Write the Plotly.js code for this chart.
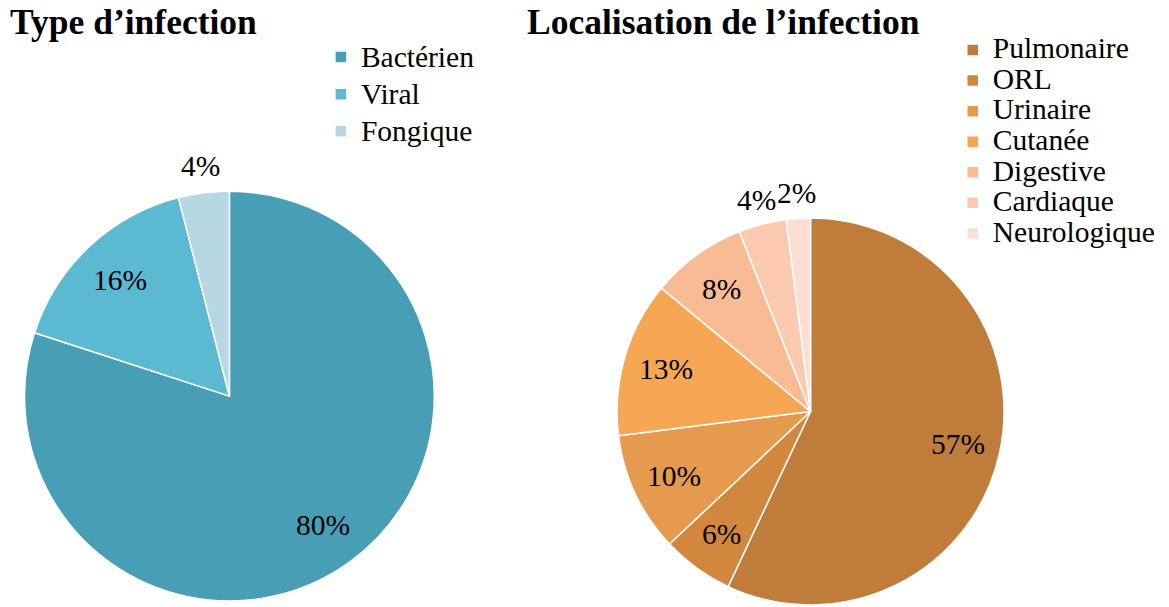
<!DOCTYPE html>
<html>
<head>
<meta charset="utf-8">
<script src="https://cdn.plot.ly/plotly-3.0.1.min.js"></script>
<style>html,body{margin:0;padding:0;background:#fff;}#chart{width:1169px;height:607px;}</style>
</head>
<body>
<div id="chart"></div>
<script>
const typeLabels = ['Bactérien', 'Viral', 'Fongique'];
const typeValues = [80, 16, 4];
const typeColors = ['#489FB5', '#5BB9D1', '#B5D8E3'];

const locLabels = ['Pulmonaire', 'ORL', 'Urinaire', 'Cutanée', 'Digestive', 'Cardiaque', 'Neurologique'];
const locValues = [57, 6, 10, 13, 8, 4, 2];
const locColors = ['#C07C3B', '#D2873F', '#E69A4D', '#F7A754', '#F9BB94', '#FBCAB0', '#FCDED2'];

const W = 1169, H = 607;
const font = '"Liberation Serif", serif';

const domA = {x: [0.0205, 0.372], y: [0.0099, 0.685]};
const domB = {x: [0.5278, 0.8589], y: [0.0033, 0.6409]};

// legend entry text drawn a little larger than the legend's line spacing
const big = s => '<span style="font-size:29.5px">' + s + '</span>';

// percentage labels around each pie, derived from the data
function labelAnnotations(values, dom, outsideIdx) {
  const total = values.reduce((a, b) => a + b, 0);
  const cx = (dom.x[0] + dom.x[1]) / 2, cy = (dom.y[0] + dom.y[1]) / 2;
  const rpx = Math.min((dom.x[1] - dom.x[0]) * W, (dom.y[1] - dom.y[0]) * H) / 2;
  const out = [];
  let cum = 0;
  values.forEach((v, i) => {
    const mid = (cum + v / 2) / total * 2 * Math.PI;
    cum += v;
    const f = outsideIdx.includes(i) ? 1.13 : 0.78;
    out.push({
      text: Math.round(v / total * 100) + '%',
      x: cx + f * rpx * Math.sin(mid) / W,
      y: cy + f * rpx * Math.cos(mid) / H,
      xref: 'paper', yref: 'paper', xanchor: 'center', yanchor: 'middle',
      showarrow: false, font: {family: font, size: 29.5, color: '#000'}
    });
  });
  return out;
}

const traces = [
  {
    type: 'pie', labels: typeLabels.map(big), values: typeValues, sort: false,
    direction: 'clockwise', rotation: 0,
    marker: {colors: typeColors, line: {color: '#ffffff', width: 1.5}},
    textinfo: 'none',
    domain: domA,
    legend: 'legend', hoverinfo: 'label+percent'
  },
  {
    type: 'pie', labels: locLabels.map(big), values: locValues, sort: false,
    direction: 'clockwise', rotation: 0,
    marker: {colors: locColors, line: {color: '#ffffff', width: 1.5}},
    textinfo: 'none',
    domain: domB,
    legend: 'legend2', hoverinfo: 'label+percent'
  }
];

const layout = {
  width: W, height: H,
  margin: {l: 0, r: 0, t: 0, b: 0},
  paper_bgcolor: '#ffffff',
  font: {family: font, color: '#000'},
  showlegend: true,
  legend: {x: 0.2745, y: 0.9447, xanchor: 'left', yanchor: 'top', font: {family: font, size: 26.2, color: '#000'}, bgcolor: 'rgba(0,0,0,0)', itemclick: false},
  legend2: {x: 0.815, y: 0.951, xanchor: 'left', yanchor: 'top', font: {family: font, size: 21.2, color: '#000'}, bgcolor: 'rgba(0,0,0,0)', itemclick: false},
  annotations: [
    {text: '<b>Type d’infection</b>', x: 8/W, y: 1 - 22/H, xref: 'paper', yref: 'paper', xanchor: 'left', yanchor: 'middle', showarrow: false, font: {family: font, size: 35.5, color: '#000'}},
    {text: '<b>Localisation de l’infection</b>', x: 525/W, y: 1 - 22/H, xref: 'paper', yref: 'paper', xanchor: 'left', yanchor: 'middle', showarrow: false, font: {family: font, size: 35.5, color: '#000'}}
  ].concat(labelAnnotations(typeValues, domA, [2]), labelAnnotations(locValues, domB, [5, 6]))
};

Plotly.newPlot('chart', traces, layout, {displayModeBar: false});
</script>
</body>
</html>
